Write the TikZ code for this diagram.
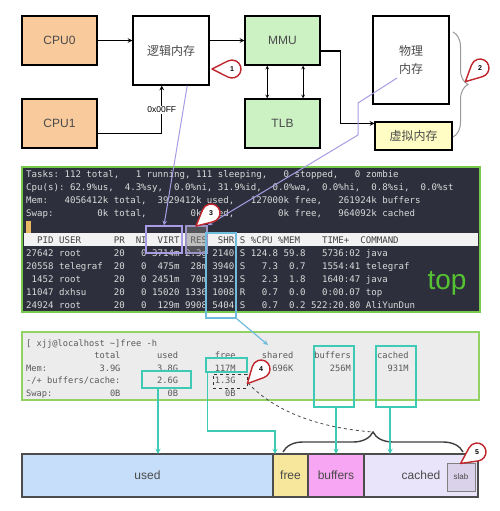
\documentclass[tikz,border=0pt]{standalone}
\usepackage{fontspec}
\setmainfont{Liberation Sans}
\newfontfamily\cjk{Noto Sans CJK SC}
\newfontfamily\mono{DejaVu Sans Mono}
\usetikzlibrary{calc}
\usetikzlibrary{positioning}
\usetikzlibrary{decorations.pathreplacing}

\definecolor{peach}{HTML}{F9CB9C}
\definecolor{mint}{HTML}{CCF2C4}
\definecolor{cream}{HTML}{FFFDC4}
\definecolor{termbg}{HTML}{2D303C}
\definecolor{termfg}{HTML}{DADADA}
\definecolor{termgreen}{HTML}{78C84C}
\definecolor{topgreen}{HTML}{55C232}
\definecolor{cursorc}{HTML}{E8B862}
\definecolor{lilac}{HTML}{A99CE4}
\definecolor{skyline}{HTML}{70BCDC}
\definecolor{tealc}{HTML}{3ECAB4}
\definecolor{panelgray}{HTML}{ECECEC}
\definecolor{panelgreen}{HTML}{92D264}
\definecolor{dropred}{HTML}{C0262C}
\definecolor{usedc}{HTML}{C6DEFA}
\definecolor{freec}{HTML}{F6E79C}
\definecolor{bufc}{HTML}{F7A6F3}
\definecolor{cachec}{HTML}{EAE4FA}
\definecolor{slabc}{HTML}{D9D2EA}
\definecolor{txt}{HTML}{4A4A4A}

% teardrop marker: name, centre x, centre y, tip angle (screen, y down), number
\newcommand{\drop}[5]{%
  \begin{scope}[shift={(#2,#3)},y=1pt]
  \draw[dropline] (-#4:20) -- (-#4+62:9)
    arc[start angle=-#4+62, end angle=-#4+298, radius=9] -- cycle;
  \node[droptext] (#1) at (0,0) {#5};
  \end{scope}}

\begin{document}
\begin{tikzpicture}[x=1pt,y=-1pt,>=stealth,
  box/.style={draw,line width=1.2pt,text=txt,inner sep=0pt,font=\fontsize{12}{14}\selectfont},
  arr/.style={->,line width=1.1pt},
  pl/.style={lilac,line width=1pt},
  tl/.style={tealc,line width=1.3pt},
  hl/.style={draw=tealc,line width=1.5pt,inner sep=0pt},
  termtext/.style={anchor=base west,inner sep=0pt,text=termfg,font=\mono\fontsize{9.1}{11}\selectfont},
  freetext/.style={anchor=base west,inner sep=0pt,text=black!65,font=\mono\fontsize{8.7}{10}\selectfont},
  bar/.style={draw=black!70,line width=1.2pt,minimum height=43,inner sep=0pt,outer sep=0pt,text=txt,font=\fontsize{12}{14}\selectfont},
  dropline/.style={draw=dropred,fill=white,line width=1.4pt,line join=round},
  droptext/.style={inner sep=0pt,font=\bfseries\fontsize{7}{7}\selectfont}]
\useasboundingbox (0,0) rectangle (500,511);
\fill[white] (0,0) rectangle (500,511);

% memory path
\node[box,fill=peach,minimum width=75,minimum height=49] (cpu0) at (59.5,40.5) {CPU0};
\node[box,fill=peach,minimum width=75,minimum height=49] (cpu1) at (59.5,123.5) {CPU1};
\node[box,fill=white,minimum width=76,minimum height=69,font=\cjk\fontsize{12}{14}\selectfont] (logic) at (171,50.5) {逻辑内存};
\node[box,fill=mint,minimum width=75,minimum height=49] (mmu) at (282.5,40.5) {MMU};
\node[box,fill=mint,minimum width=75,minimum height=49] (tlb) at (282.5,123.5) {TLB};
\node[box,fill=white,minimum width=76,minimum height=88,align=center,font=\cjk\fontsize{12}{18}\selectfont] (phys) at (411,60) {物理\\内存};
\node[box,fill=cream,minimum width=77,minimum height=28,font=\cjk\fontsize{12}{14}\selectfont] (virt) at (413.5,136) {虚拟内存};

\draw[arr] (cpu0.east) -- (cpu0.east -| logic.west);
\draw[arr] ($(cpu1.south east)!.3!(cpu1.north east)$) -| ($(logic.south west)!.38!(logic.south east)$)
  node[pos=.75,fill=white,inner sep=1pt,font=\fontsize{8.5}{9}\selectfont] (addr) {0x00FF};
\draw[arr] (logic.east |- mmu.west) -- (mmu.west);
\foreach \f in {.3,.77}
  \draw[<->,line width=.7pt] ($(mmu.south west)!\f!(mmu.south east)$) -- ($(tlb.north west)!\f!(tlb.north east)$);
\coordinate (v1) at ($(virt.north west)!.07!(virt.south west)$);
\draw[arr] ($(mmu.south east)!.29!(mmu.north east)$) -| ($(v1)+(-34,0)$) -- (v1);
\draw[black!40,line width=1pt,decorate,decoration={brace,amplitude=15pt}] (453,32) -- (453,137);

% top output
\node[draw=termgreen,line width=2pt,fill=termbg,minimum width=458,minimum height=145,inner sep=0pt] (term) at (251,239.5) {};
\foreach \t [count=\i] in {{Tasks:~112~total,~~~1~running,~111~sleeping,~~~0~stopped,~~~0~zombie},
  {Cpu(s):~62.9\%us,~~4.3\%sy,~~0.0\%ni,~31.9\%id,~~0.0\%wa,~~0.0\%hi,~~0.8\%si,~~0.0\%st},
  {Mem:~~~4056412k~total,~~3929412k~used,~~~127000k~free,~~~261924k~buffers},
  {Swap:~~~~~~~~0k~total,~~~~~~~~0k~used,~~~~~~~~0k~free,~~~964092k~cached}}
  \node[termtext] (tl\i) at (26,164+13*\i) {\t};
\node[fill=cursorc,minimum width=5,minimum height=12,inner sep=0pt] (cur) at (28.5,226.5) {};
\node[fill=white!95!black,minimum width=454,minimum height=13,inner sep=0pt] (hbar) at (251,239.5) {};
\node[termtext,text=black!75] (head) at (26,243) {~~PID~USER~~~~~~PR~~NI~~VIRT~~RES~~SHR~S~\%CPU~\%MEM~~~~TIME+~~COMMAND};
\foreach \t [count=\i] in {{27642~root~~~~~~20~~~0~3714m~2.3g~2140~S~124.8~59.8~~~5736:02~java},
  {20558~telegraf~~20~~~0~~475m~~28m~3940~S~~~7.3~~0.7~~~1554:41~telegraf},
  {~1452~root~~~~~~20~~~0~2451m~~70m~3192~S~~~2.3~~1.8~~~1640:47~java},
  {11047~dxhsu~~~~~20~~~0~15020~1336~1008~R~~~0.7~~0.0~~~0:00.07~top},
  {24924~root~~~~~~20~~~0~~129m~9908~5404~S~~~0.7~~0.2~522:20.80~AliYunDun}}
  \node[termtext] (row\i) at (26,243+13*\i) {\t};
\node[text=topgreen,inner sep=0pt,font=\fontsize{28}{28}\selectfont] (toplbl) at (447,283) {top};
\node[draw=lilac,line width=1.5pt,minimum width=36,minimum height=27,inner sep=0pt] (virtbox) at (164,239.5) {};
\node[draw=lilac!70!gray,fill=gray,fill opacity=.45,line width=1.5pt,minimum width=21,minimum height=27,inner sep=0pt] (resbox) at (196.5,239.5) {};
\node[draw=skyline,line width=1.5pt,minimum width=30,minimum height=85,inner sep=0pt] (shrbox) at (221,275.5) {};

\draw[pl,->] ($(logic.south west)!.71!(logic.south east)$) -- (virtbox.north);
\draw[pl,->] ($(phys)+(-14,18)$) -- (358,103) -- (358,135) -- (resbox.north east);

% free output
\node[draw=panelgreen,line width=2pt,fill=panelgray,minimum width=457,minimum height=68,inner sep=0pt] (freep) at (250.5,366) {};
\foreach \t [count=\i] in {{[~xjj@localhost~\textasciitilde]free~-h},
  {~~~~~~~~~~~~~total~~~~~~~used~~~~~~~free~~~~~shared~~~~buffers~~~~~cached},
  {Mem:~~~~~~~~~~3.9G~~~~~~~3.8G~~~~~~~117M~~~~~~~696K~~~~~~~256M~~~~~~~931M},
  {-/+~buffers/cache:~~~~~~~2.6G~~~~~~~1.3G},
  {Swap:~~~~~~~~~~~0B~~~~~~~~~0B~~~~~~~~~0B}}
  \node[freetext] (fl\i) at (26,333.4+12.6*\i) {\t};
\node[hl,minimum width=49,minimum height=17] (b26) at (166.5,379.5) {};
\node[hl,minimum width=41,minimum height=14] (b117) at (226.5,365) {};
\node[draw=black!80,dashed,line width=.8pt,minimum width=34,minimum height=14,inner sep=0pt] (b13) at (230,381) {};
\node[hl,minimum width=40,minimum height=61] (bbuf) at (334,376.5) {};
\node[hl,minimum width=40,minimum height=61] (bcache) at (396,376.5) {};
\coordinate (shr) at (268,345);
\draw[skyline,line width=1.2pt,->] (shrbox.south east) -- (shr);

% memory bar
\node[bar,fill=usedc,minimum width=251] (usedbar) at (147.5,475.5) {used};
\node[bar,fill=freec,minimum width=35,right=0pt of usedbar] (freebar) {free};
\node[bar,fill=bufc,minimum width=56,right=0pt of freebar] (bufbar) {buffers};
\node[bar,fill=cachec,minimum width=114,right=0pt of bufbar] (cachebar) {cached};
\node[draw=gray,fill=slabc,line width=1pt,minimum size=28,inner sep=0pt,text=txt,font=\fontsize{8}{8}\selectfont] (slab) at (461,477) {slab};
\draw[black!75,line width=1.4pt,decorate,decoration={brace,amplitude=20pt}] (283,452) -- (463,452);
\coordinate (btip) at (373,432);

\draw[tl,->] ($(b26.south west)!.33!(b26.south east)$) coordinate (t1) -- (t1 |- usedbar.north);
\draw[tl,->] ($(b117.south west)!.06!(b117.south east)$) |- ([xshift=2pt,yshift=23pt]freebar.north west) -- ([xshift=2pt]freebar.north west);
\draw[tl,->] (bufbar.north |- bbuf.south) -- (bufbar.north);
\coordinate (t4) at ($(bcache.south)+(-6,0)$);
\draw[tl,->] (t4) -- (t4 |- cachebar.north);
\draw[black!70,dashed,line width=.8pt] (248,383) .. controls (275,412) and (320,428) .. (btip);

% markers
\drop{m1}{232}{69}{180}{1}
\drop{m2}{480}{68}{137}{2}
\drop{m3}{211}{213}{139}{3}
\drop{m4}{261}{369}{133}{4}
\drop{m5}{477}{452}{145}{5}
\end{tikzpicture}
\end{document}
